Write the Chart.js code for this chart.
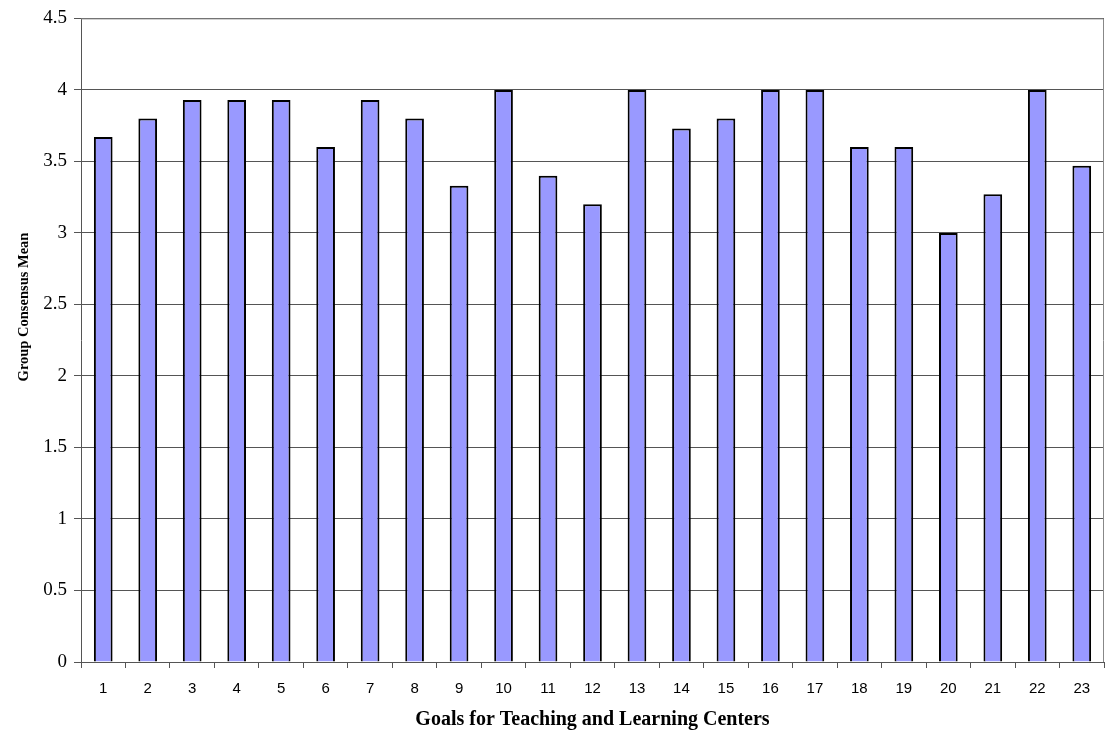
<!DOCTYPE html>
<html>
<head>
<meta charset="utf-8">
<script src="https://cdn.jsdelivr.net/npm/chart.js@4/dist/chart.umd.min.js"></script>
<style>
  html, body { margin: 0; padding: 0; background: #ffffff; }
  #wrap { width: 1105px; height: 734px; }
</style>
</head>
<body>
<div id="wrap"><canvas id="c" width="1105" height="734"></canvas></div>
<script>
const categories = ['1','2','3','4','5','6','7','8','9','10','11','12','13','14','15','16','17','18','19','20','21','22','23'];
const consensusMeans = [3.67, 3.80, 3.93, 3.93, 3.93, 3.60, 3.93, 3.80, 3.33, 4.00, 3.40, 3.20, 4.00, 3.73, 3.80, 4.00, 4.00, 3.60, 3.60, 3.00, 3.27, 4.00, 3.47];
const yTicks = [0, 0.5, 1, 1.5, 2, 2.5, 3, 3.5, 4, 4.5];
const xTitle = 'Goals for Teaching and Learning Centers';
const yTitle = 'Group Consensus Mean';

const frameAndTitle = {
  id: 'frameAndTitle',
  afterDraw(chart) {
    const ctx = chart.ctx;
    const a = chart.chartArea;
    ctx.save();
    ctx.strokeStyle = '#888888';
    ctx.lineWidth = 1;
    ctx.beginPath();
    ctx.moveTo(a.left, a.top + 0.5);
    ctx.lineTo(a.right - 0.5, a.top + 0.5);
    ctx.lineTo(a.right - 0.5, a.bottom);
    ctx.stroke();
    ctx.restore();

    ctx.save();
    ctx.translate(24, 307);
    ctx.rotate(-Math.PI / 2);
    ctx.font = 'bold 14.5px "Liberation Serif", "Times New Roman", serif';
    ctx.fillStyle = '#000000';
    ctx.textAlign = 'center';
    ctx.textBaseline = 'middle';
    ctx.fillText(yTitle, 0, 0);
    ctx.restore();
  }
};

new Chart(document.getElementById('c'), {
  type: 'bar',
  data: {
    labels: categories,
    datasets: [{
      data: consensusMeans,
      backgroundColor: '#9999ff',
      borderColor: '#000000',
      borderWidth: 2,
      categoryPercentage: 1.0,
      barPercentage: 0.42
    }]
  },
  options: {
    responsive: false,
    animation: false,
    layout: { padding: { top: 14, right: 1, bottom: 0, left: 0 } },
    plugins: { legend: { display: false }, tooltip: { enabled: false } },
    scales: {
      x: {
        offset: true,
        afterFit(scale) { scale.height = 72; },
        grid: { offset: true, drawOnChartArea: false, drawTicks: true, tickLength: 6, color: '#555555' },
        border: { display: true, color: '#555555', width: 1 },
        ticks: { color: '#000000', padding: 12, font: { family: '"Liberation Sans", Arial, sans-serif', size: 15 } },
        title: { display: true, text: xTitle, color: '#000000', padding: { top: 0, bottom: 2 },
                 font: { family: '"Liberation Serif", "Times New Roman", serif', size: 20, weight: 'bold' } }
      },
      y: {
        min: 0, max: 4.5,
        afterFit(scale) { scale.width = 81; },
        afterBuildTicks(scale) { scale.ticks = yTicks.map(v => ({ value: v })); },
        grid: { color: '#555555', tickLength: 7, drawTicks: true },
        border: { display: true, color: '#555555', width: 1 },
        ticks: { color: '#000000', padding: 7, font: { family: '"Liberation Serif", "Times New Roman", serif', size: 19 },
                 callback: (v) => String(v) }
      }
    }
  },
  plugins: [frameAndTitle]
});
</script>
</body>
</html>
